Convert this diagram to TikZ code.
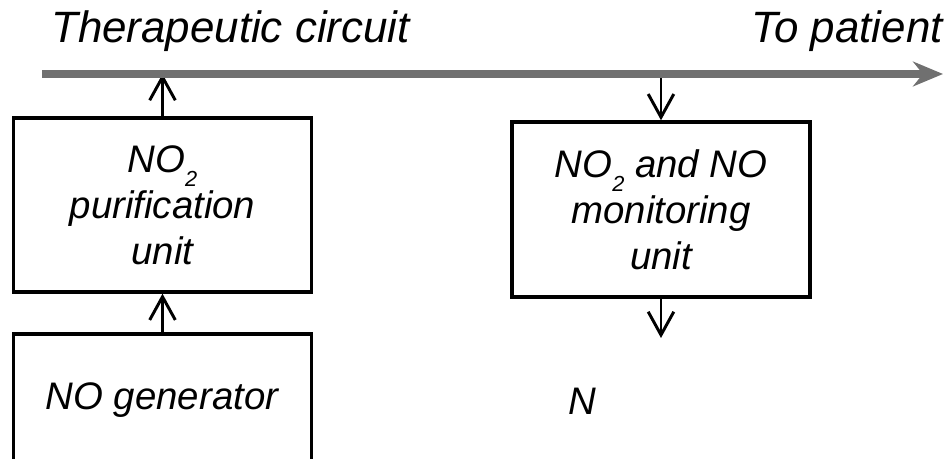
\documentclass[tikz,border=0pt]{standalone}
\usepackage{fontspec}
\setmainfont{Liberation Sans}
\usetikzlibrary{arrows.meta}
\definecolor{circgray}{RGB}{112,112,112}
\newcommand{\subtwo}{\raisebox{-10pt}{\fontsize{15.5}{16}\selectfont 2}}

\begin{document}
\begin{tikzpicture}[x=0.025cm, y=0.025cm,
    unitbox/.style={draw, line width=2.4pt, inner sep=0pt, minimum width=7.45cm, align=center},
    txt/.style={font=\fontsize{27.3}{32.6}\selectfont\itshape, inner sep=0pt},
    conn/.style={line width=2.1pt, -{Straight Barb[length=0.58cm, width=0.64cm]}},
    circuit/.style={circgray, line width=5pt, -{Stealth[length=0.75cm, width=0.62cm, inset=0.25cm]}}]

\useasboundingbox (0,0) rectangle (949,459);

% --- Titoli ---
\node[txt, font=\fontsize{31.2}{34}\selectfont\itshape, anchor=base west] (tcirc) at (51,416) {Therapeutic circuit};
\node[txt, font=\fontsize{31.2}{34}\selectfont\itshape, anchor=base east] (tpat) at (943,416) {To patient};

% --- Blocchi ---
\node[unitbox, txt, minimum height=4.35cm] (purif) at (162.5,254) {NO\subtwo\\purification\\unit};
\node[unitbox, txt, minimum height=3.3cm] (gen) at (162.5,59) {};
\node[txt, anchor=base] (genlab) at (162,49) {NO generator};
\node[unitbox, txt, minimum height=4.375cm] (monit) at (661,249.5) {NO\subtwo{} and NO\\monitoring\\unit};
\node[txt, anchor=base west] (nlab) at (568,44) {N};

% --- Collegamenti ---
\coordinate (cstart) at (42,385);
\coordinate (cend) at (943,385);
\coordinate (outN) at (661,121);

\draw[conn] (gen.north) -- (purif.south);
\draw[conn] (purif.north) -- (purif.north |- cstart);
\draw[conn] (monit.north |- cstart) -- (monit.north);
\draw[conn] (monit.south) -- (outN);

% --- Linea del circuito ---
\draw[circuit] (cstart) -- (cend);

\end{tikzpicture}
\end{document}
